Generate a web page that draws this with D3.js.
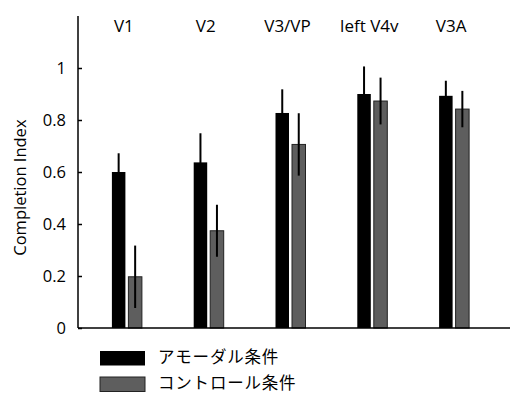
<!DOCTYPE html>
<html>
<head>
<meta charset="utf-8">
<script src="https://cdn.jsdelivr.net/npm/d3@7"></script>
<style>
  body { margin: 0; background: #fff; }
  text { font-family: "Open Sans", "Noto Sans", sans-serif; fill: #000; }
  .jp { font-family: "Noto Sans CJK JP", sans-serif; }
</style>
</head>
<body>
<svg width="510" height="394"></svg>
<script>
const areas = ['V1', 'V2', 'V3/VP', 'left V4v', 'V3A'];
const amodal = [0.60, 0.637, 0.827, 0.90, 0.893];
const amodalErr = [0.072, 0.112, 0.091, 0.106, 0.058];
const control = [0.197, 0.374, 0.706, 0.873, 0.842];
const controlErr = [0.12, 0.10, 0.12, 0.09, 0.07];
const yTicks = [0, 0.2, 0.4, 0.6, 0.8, 1];
const legendLabels = ['アモーダル条件', 'コントロール条件'];

const svg = d3.select('svg');
const colors = ['#000', '#5e5e5e'];

const x = d3.scaleBand().domain(areas).range([86, 495]);
const y = d3.scaleLinear().domain([0, 1.2]).range([328, 16]);

const barW = 13.5;
// offsets of each series from the group center
const offsets = [-15, 1.5];

const series = [
  { vals: amodal, errs: amodalErr },
  { vals: control, errs: controlErr }
];

series.forEach((s, k) => {
  const cx = d => x(d) + x.bandwidth() / 2;
  svg.append('g').selectAll('rect').data(areas).enter().append('rect')
    .attr('x', d => cx(d) + offsets[k])
    .attr('y', (d, i) => y(s.vals[i]))
    .attr('width', barW)
    .attr('height', (d, i) => y(0) - y(s.vals[i]))
    .attr('fill', colors[k])
    .attr('stroke', k ? '#222' : 'none')
    .attr('stroke-width', 1);

  svg.append('g').selectAll('line').data(areas).enter().append('line')
    .attr('x1', d => cx(d) + offsets[k] + barW / 2)
    .attr('x2', d => cx(d) + offsets[k] + barW / 2)
    .attr('y1', (d, i) => y(s.vals[i] + s.errs[i]))
    .attr('y2', (d, i) => y(s.vals[i] - s.errs[i]))
    .attr('stroke', '#000')
    .attr('stroke-width', 2);
});

// y axis
const yAxis = d3.axisLeft(y).tickValues(yTicks).tickSize(0).tickPadding(12)
  .tickFormat(d => d === 0 || d === 1 ? d : d3.format('.1f')(d));
const gy = svg.append('g').attr('transform', 'translate(78,0)').call(yAxis);
gy.select('.domain').remove();
gy.selectAll('text').style('font-size', '16.5px').style('font-family', '"Open Sans", sans-serif');
gy.selectAll('.tick').append('line').attr('x1', 0).attr('x2', 4).attr('stroke', '#000').attr('stroke-width', 1.5);

svg.append('line').attr('x1', 78).attr('x2', 78).attr('y1', y(1.2)).attr('y2', y(0))
  .attr('stroke', '#000').attr('stroke-width', 1.5);
svg.append('line').attr('x1', 78).attr('x2', 510).attr('y1', y(0)).attr('y2', y(0))
  .attr('stroke', '#000').attr('stroke-width', 1.5);

// area labels on top
svg.append('g').selectAll('text').data(areas).enter().append('text')
  .attr('x', d => x(d) + x.bandwidth() / 2 - 3)
  .attr('y', 32)
  .attr('text-anchor', 'middle')
  .style('font-size', '17px')
  .text(d => d);

svg.append('text')
  .attr('transform', 'translate(26,' + y(0.54) + ') rotate(-90)')
  .attr('text-anchor', 'middle')
  .style('font-size', '16.5px')
  .text('Completion Index');

// legend
const lg = svg.append('g').selectAll('g').data(legendLabels).enter().append('g')
  .attr('transform', (d, i) => 'translate(100,' + (351 + i * 26) + ')');
lg.append('rect').attr('width', 45).attr('height', 14.5)
  .attr('fill', (d, i) => colors[i])
  .attr('stroke', (d, i) => i ? '#222' : 'none');
lg.append('text').attr('class', 'jp')
  .attr('x', 58).attr('y', 7).attr('dy', '0.3em')
  .style('font-size', '16.5px')
  .style('letter-spacing', '0.8px')
  .text(d => d);
</script>
</body>
</html>
